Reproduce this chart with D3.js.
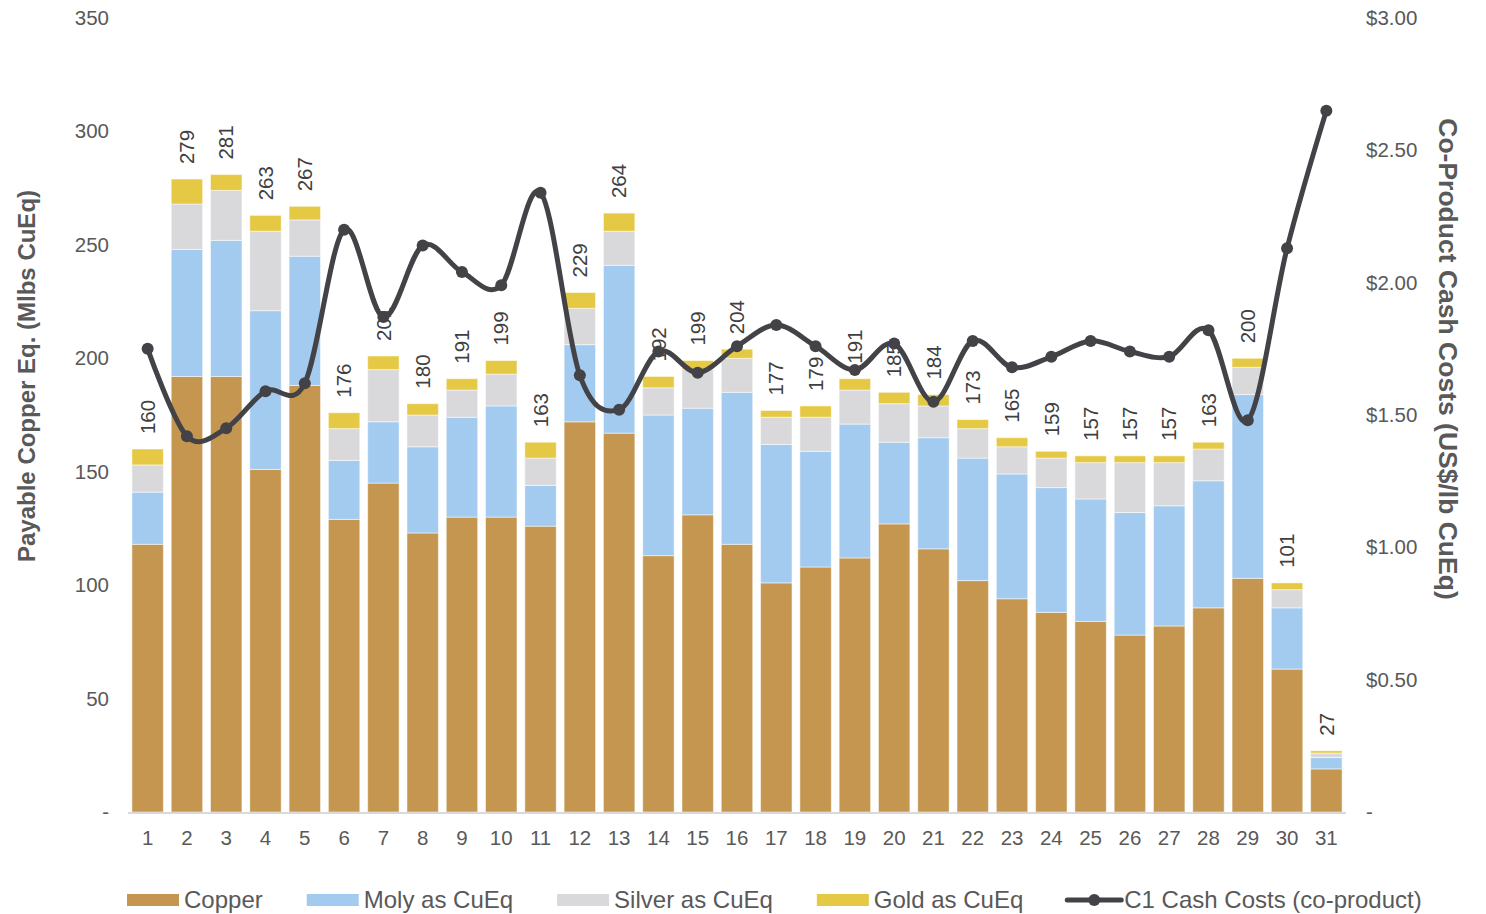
<!DOCTYPE html>
<html>
<head>
<meta charset="utf-8">
<script src="https://cdn.jsdelivr.net/npm/d3@7"></script>
<style>
  body { margin: 0; background: #fff; }
  svg { font-family: "Liberation Sans", Arial, sans-serif; }
  .tick-label { fill: #595959; font-size: 20.5px; }
  .axis-title { fill: #595959; font-weight: bold; }
  .bar-label { fill: #404040; font-size: 20.5px; }
  .legend-text { fill: #595959; font-size: 24px; }
</style>
</head>
<body>
<svg id="chart" width="1486" height="914"></svg>
<script>
// mine ids along the x axis
const categories = d3.range(1, 32).map(String);

// stacked series, Mlbs CuEq
const copper = [118,192,192,151,188,129,145,123,130,130,126,172,167,113,131,118,101,108,112,127,116,102,94,88,84,78,82,90,103,63,19];
const moly   = [23,56,60,70,57,26,27,38,44,49,18,34,74,62,47,67,61,51,59,36,49,54,55,55,54,54,53,56,81,27,5];
const silver = [12,20,22,35,16,14,23,14,12,14,12,16,15,12,17,15,12,15,15,17,14,13,12,13,16,22,19,14,12,8,2];
const gold   = [7,11,7,7,6,7,6,5,5,6,7,7,8,5,4,4,3,5,5,5,5,4,4,3,3,3,3,3,4,3,1];

// C1 cash costs, US$/lb CuEq
const cashCost = [1.75,1.42,1.45,1.59,1.62,2.20,1.87,2.14,2.04,1.99,2.34,1.65,1.52,1.74,1.66,1.76,1.84,1.76,1.67,1.77,1.55,1.78,1.68,1.72,1.78,1.74,1.72,1.82,1.48,2.13,2.65];

const leftTicks = [0, 50, 100, 150, 200, 250, 300, 350];
const rightTicks = [0, 0.5, 1, 1.5, 2, 2.5, 3];

const keys = ['copper', 'moly', 'silver', 'gold'];
const labels = {
  copper: 'Copper',
  moly: 'Moly as CuEq',
  silver: 'Silver as CuEq',
  gold: 'Gold as CuEq'
};
const colours = {
  copper: '#C4964F',
  moly: '#A3CBF0',
  silver: '#D9D9DB',
  gold: '#E5C945'
};
const lineColour = '#434247';

const svg = d3.select('#chart');
const plot = {left: 128, right: 1346, top: 18, bottom: 812};

const rows = categories.map((c, i) => ({
  cat: c,
  copper: copper[i],
  moly: moly[i],
  silver: silver[i],
  gold: gold[i],
  cost: cashCost[i]
}));

const x = d3.scaleBand()
  .domain(categories)
  .range([plot.left, plot.right])
  .paddingInner(0.2)
  .paddingOuter(0.1);

const y = d3.scaleLinear().domain([0, 350]).range([plot.bottom, plot.top]);
const y2 = d3.scaleLinear().domain([0, 3]).range([plot.bottom, plot.top]);

// axes (text only, no lines, like the excel export)
const leftAxis = svg.append('g')
  .attr('transform', `translate(${plot.left - 19},0)`)
  .call(d3.axisLeft(y).tickValues(leftTicks).tickSize(0).tickPadding(0)
    .tickFormat(d => d === 0 ? '-' : d));
const rightAxis = svg.append('g')
  .attr('transform', `translate(${plot.right + 20},0)`)
  .call(d3.axisRight(y2).tickValues(rightTicks).tickSize(0).tickPadding(0)
    .tickFormat(d => d === 0 ? '-' : d3.format('$.2f')(d)));
const bottomAxis = svg.append('g')
  .attr('transform', `translate(0,${plot.bottom + 26})`)
  .call(d3.axisBottom(x).tickSize(0).tickPadding(0));

[leftAxis, rightAxis, bottomAxis].forEach(g => {
  g.select('.domain').remove();
  g.selectAll('text').attr('class', 'tick-label').attr('fill', null);
  g.attr('font-family', null).attr('font-size', null);
});
bottomAxis.selectAll('text').attr('dy', '0.35em');

// stacked bars
const stacked = d3.stack().keys(keys)(rows);

svg.append('g')
  .selectAll('g')
  .data(stacked)
  .join('g')
    .attr('fill', d => colours[d.key])
  .selectAll('rect')
  .data(d => d)
  .join('rect')
    .attr('x', d => x(d.data.cat))
    .attr('width', x.bandwidth())
    .attr('y', d => y(d[1]))
    .attr('height', d => y(d[0]) - y(d[1]))
    .attr('stroke', '#ffffff')
    .attr('stroke-opacity', 0.5)
    .attr('stroke-width', 1);

// baseline
svg.append('line')
  .attr('x1', plot.left).attr('x2', plot.right)
  .attr('y1', plot.bottom + 1).attr('y2', plot.bottom + 1)
  .attr('stroke', '#D9D9D9')
  .attr('stroke-width', 2);

// totals above bars
svg.append('g')
  .selectAll('text')
  .data(rows)
  .join('text')
    .attr('class', 'bar-label')
    .attr('transform', d => {
      const total = d.copper + d.moly + d.silver + d.gold;
      return `translate(${x(d.cat) + x.bandwidth() / 2},${y(total) - 15}) rotate(-90)`;
    })
    .attr('dy', '0.35em')
    .text(d => d.copper + d.moly + d.silver + d.gold);

// cash cost line on the right axis
const line = d3.line()
  .x(d => x(d.cat) + x.bandwidth() / 2)
  .y(d => y2(d.cost))
  .curve(d3.curveCardinal.tension(0));

svg.append('path')
  .datum(rows)
  .attr('fill', 'none')
  .attr('stroke', lineColour)
  .attr('stroke-width', 5)
  .attr('stroke-linejoin', 'round')
  .attr('d', line);

svg.append('g')
  .selectAll('circle')
  .data(rows)
  .join('circle')
    .attr('cx', d => x(d.cat) + x.bandwidth() / 2)
    .attr('cy', d => y2(d.cost))
    .attr('r', 6)
    .attr('fill', lineColour);

// axis titles
svg.append('text')
  .attr('class', 'axis-title')
  .style('font-size', '24px')
  .attr('transform', 'translate(35,376) rotate(-90)')
  .attr('text-anchor', 'middle')
  .text('Payable Copper Eq. (Mlbs CuEq)');

svg.append('text')
  .attr('class', 'axis-title')
  .style('font-size', '26.5px')
  .attr('transform', 'translate(1439,359) rotate(90)')
  .attr('text-anchor', 'middle')
  .text('Co-Product Cash Costs (US$/lb CuEq)');

// legend along the bottom
const legend = svg.append('g').attr('transform', 'translate(127,900)');
let lx = 0;
keys.forEach(k => {
  legend.append('rect')
    .attr('x', lx).attr('y', -6)
    .attr('width', 52).attr('height', 12)
    .attr('fill', colours[k]);
  const t = legend.append('text')
    .attr('class', 'legend-text')
    .attr('x', lx + 57).attr('y', 8)
    .text(labels[k]);
  lx += 57 + t.node().getComputedTextLength() + 44;
});
legend.append('line')
  .attr('x1', lx).attr('x2', lx + 54)
  .attr('stroke', lineColour)
  .attr('stroke-width', 5)
  .attr('stroke-linecap', 'round');
legend.append('circle')
  .attr('cx', lx + 27).attr('r', 6)
  .attr('fill', lineColour);
legend.append('text')
  .attr('class', 'legend-text')
  .attr('x', lx + 57).attr('y', 8)
  .text('C1 Cash Costs (co-product)');
</script>
</body>
</html>
